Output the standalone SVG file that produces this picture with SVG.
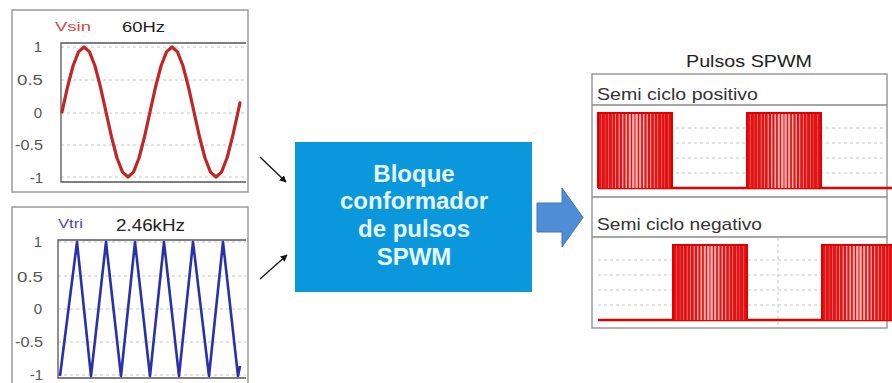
<svg xmlns="http://www.w3.org/2000/svg" width="892" height="383" viewBox="0 0 892 383">
<style>
.frame{fill:#fff;stroke:#9a9a9a;stroke-width:1.5}
.axes{fill:none;stroke:#555;stroke-width:1.3}
.grid{stroke:#c4c4c4;stroke-width:1;stroke-dasharray:3 3;fill:none}
.tick{font-family:"Liberation Sans",Arial,sans-serif;font-size:15px;fill:#555}
.lbl{font-family:"Liberation Sans",Arial,sans-serif;fill:#222}
.blk{font-family:"Liberation Sans",Arial,sans-serif;font-size:24px;font-weight:bold;fill:#e6f6ff;text-anchor:middle}
.st{fill:#e01414}
.thin{stroke:#111;stroke-width:1.3;fill:none}
.sep{stroke:#888;stroke-width:1.3;fill:none}
.low{stroke:#e00000;stroke-width:2.5;fill:none}
</style>
<defs>
<marker id="ah" viewBox="0 0 10 10" refX="9" refY="5" markerWidth="7" markerHeight="7" orient="auto" markerUnits="userSpaceOnUse">
<path d="M0,0 L10,5 L0,10 z" fill="#111"/>
</marker>
<g id="burst">
<rect x="0" y="0" width="74" height="75" fill="#f6b4b4"/>
<rect class="st" x="0.06" y="0" width="3.4" height="75"/>
<rect class="st" x="3.63" y="0" width="3.3" height="75"/>
<rect class="st" x="7.2" y="0" width="3.2" height="75"/>
<rect class="st" x="10.77" y="0" width="3.1" height="75"/>
<rect class="st" x="14.39" y="0" width="2.9" height="75"/>
<rect class="st" x="18.03" y="0" width="2.65" height="75"/>
<rect class="st" x="21.68" y="0" width="2.4" height="75"/>
<rect class="st" x="25.35" y="0" width="2.1" height="75"/>
<rect class="st" x="29.05" y="0" width="1.75" height="75"/>
<rect class="st" x="32.74" y="0" width="1.4" height="75"/>
<rect class="st" x="36.44" y="0" width="1.05" height="75"/>
<rect class="st" x="39.78" y="0" width="1.4" height="75"/>
<rect class="st" x="43.13" y="0" width="1.75" height="75"/>
<rect class="st" x="46.47" y="0" width="2.1" height="75"/>
<rect class="st" x="49.84" y="0" width="2.4" height="75"/>
<rect class="st" x="53.23" y="0" width="2.65" height="75"/>
<rect class="st" x="56.63" y="0" width="2.9" height="75"/>
<rect class="st" x="60.05" y="0" width="3.1" height="75"/>
<rect class="st" x="63.52" y="0" width="3.2" height="75"/>
<rect class="st" x="66.99" y="0" width="3.3" height="75"/>
<rect class="st" x="70.46" y="0" width="3.4" height="75"/>
<path d="M0,75 V0 H74 V75" fill="none" stroke="#e00000" stroke-width="2"/>
</g>
</defs>

<g id="panel-vsin">
<rect class="frame" x="12" y="10" width="236" height="182"/>
<g class="grid">
<line x1="61" y1="47" x2="246" y2="47"/>
<line x1="61" y1="80" x2="246" y2="80"/>
<line x1="61" y1="113" x2="246" y2="113"/>
<line x1="61" y1="145" x2="246" y2="145"/>
<line x1="61" y1="177" x2="246" y2="177"/>
</g>
<path class="axes" d="M246,43 H61 V182 H246"/>
<text class="tick" x="42" y="52" text-anchor="end">1</text>
<text class="tick" x="43" y="85" text-anchor="end" textLength="26" lengthAdjust="spacingAndGlyphs">0.5</text>
<text class="tick" x="42" y="118" text-anchor="end">0</text>
<text class="tick" x="43" y="150" text-anchor="end" textLength="28" lengthAdjust="spacingAndGlyphs">-0.5</text>
<text class="tick" x="43" y="183" text-anchor="end">-1</text>
<text class="lbl" x="55" y="31" font-size="13" style="fill:#d04848" textLength="36" lengthAdjust="spacingAndGlyphs">Vsin</text>
<text class="lbl" x="122" y="32" font-size="14" textLength="43" lengthAdjust="spacingAndGlyphs">60Hz</text>
<polyline fill="none" stroke="#c02626" stroke-width="3.2" stroke-linejoin="round" stroke-linecap="round" points="62,112 67.5,87.1 73,66 78.5,51.9 84,47 89.5,51.9 95,66 100.5,87.1 106,112 111.5,136.9 117,158 122.5,172.1 128,177 133.5,172.1 139,158 144.5,136.9 150,112 155.5,87.1 161,66 166.5,51.9 172,47 177.5,51.9 183,66 188.5,87.1 194,112 199.5,136.9 205,158 210.5,172.1 216,177 221.5,172.1 227,158 232.5,136.9 238,112 240,102.8"/>
</g>

<g id="panel-vtri">
<rect class="frame" x="12" y="207" width="236" height="185"/>
<g class="grid">
<line x1="58" y1="242" x2="246" y2="242"/>
<line x1="58" y1="276" x2="246" y2="276"/>
<line x1="58" y1="309" x2="246" y2="309"/>
<line x1="58" y1="342" x2="246" y2="342"/>
<line x1="58" y1="375" x2="246" y2="375"/>
</g>
<path class="axes" d="M246,240 H58 V378 H246"/>
<text class="tick" x="42" y="247" text-anchor="end">1</text>
<text class="tick" x="43" y="282" text-anchor="end" textLength="26" lengthAdjust="spacingAndGlyphs">0.5</text>
<text class="tick" x="42" y="314" text-anchor="end">0</text>
<text class="tick" x="43" y="347" text-anchor="end" textLength="28" lengthAdjust="spacingAndGlyphs">-0.5</text>
<text class="tick" x="43" y="380" text-anchor="end" font-size="14">-1</text>
<text class="lbl" x="58" y="228" font-size="13" style="fill:#4a4ab8" textLength="25" lengthAdjust="spacingAndGlyphs">Vtri</text>
<text class="lbl" x="116" y="231" font-size="16" textLength="69" lengthAdjust="spacingAndGlyphs">2.46kHz</text>
<polyline fill="none" stroke="#2a30a8" stroke-width="2.6" stroke-linejoin="round" points="60,376 77,242 91,376 106,242 121,376 135,242 150,376 164,242 179,376 193,242 209,376 223,242 238,376 240,366"/>
</g>

<g id="block">
<rect x="295" y="142" width="237" height="150" fill="#0b97dc"/>
<text class="blk" x="414" y="182">Bloque</text>
<text class="blk" x="414" y="209">conformador</text>
<text class="blk" x="414" y="237">de pulsos</text>
<text class="blk" x="414" y="265">SPWM</text>
</g>

<g id="connectors">
<line class="thin" x1="260" y1="157" x2="286" y2="182" marker-end="url(#ah)"/>
<line class="thin" x1="260" y1="279" x2="287" y2="255" marker-end="url(#ah)"/>
<path d="M537,203 H562 V188 L583,217.5 L562,247 V232 H537 Z" fill="#4f8dd6" stroke="#3f74bb" stroke-width="1"/>
</g>

<g id="pulses-panel">
<text class="lbl" x="686" y="67" font-size="17" textLength="126" lengthAdjust="spacingAndGlyphs">Pulsos SPWM</text>
<rect x="592" y="74" width="295" height="254" fill="#fff" stroke="#8a8a8a" stroke-width="1.3"/>
<text class="lbl" x="597" y="100" font-size="17" style="fill:#333" textLength="161" lengthAdjust="spacingAndGlyphs">Semi ciclo positivo</text>
<line class="sep" x1="592" y1="105" x2="887" y2="105"/>
<g class="grid">
<line x1="598" y1="128" x2="887" y2="128"/>
<line x1="598" y1="143" x2="887" y2="143"/>
<line x1="598" y1="158" x2="887" y2="158"/>
<line x1="598" y1="173" x2="887" y2="173"/>
</g>
<line class="sep" x1="592" y1="197" x2="887" y2="197"/>
<line class="low" x1="598" y1="188" x2="892" y2="188"/>
<use href="#burst" x="598" y="113"/>
<use href="#burst" x="747" y="113"/>

<text class="lbl" x="597" y="230" font-size="17" style="fill:#333" textLength="165" lengthAdjust="spacingAndGlyphs">Semi ciclo negativo</text>
<line class="sep" x1="592" y1="237" x2="887" y2="237"/>
<g class="grid">
<line x1="598" y1="260" x2="887" y2="260"/>
<line x1="598" y1="275" x2="887" y2="275"/>
<line x1="598" y1="290" x2="887" y2="290"/>
<line x1="598" y1="305" x2="887" y2="305"/>
<line x1="778" y1="238" x2="778" y2="327"/>
</g>
<line class="low" x1="598" y1="320" x2="892" y2="320"/>
<use href="#burst" x="673" y="245"/>
<use href="#burst" x="822" y="245"/>
</g>
</svg>
